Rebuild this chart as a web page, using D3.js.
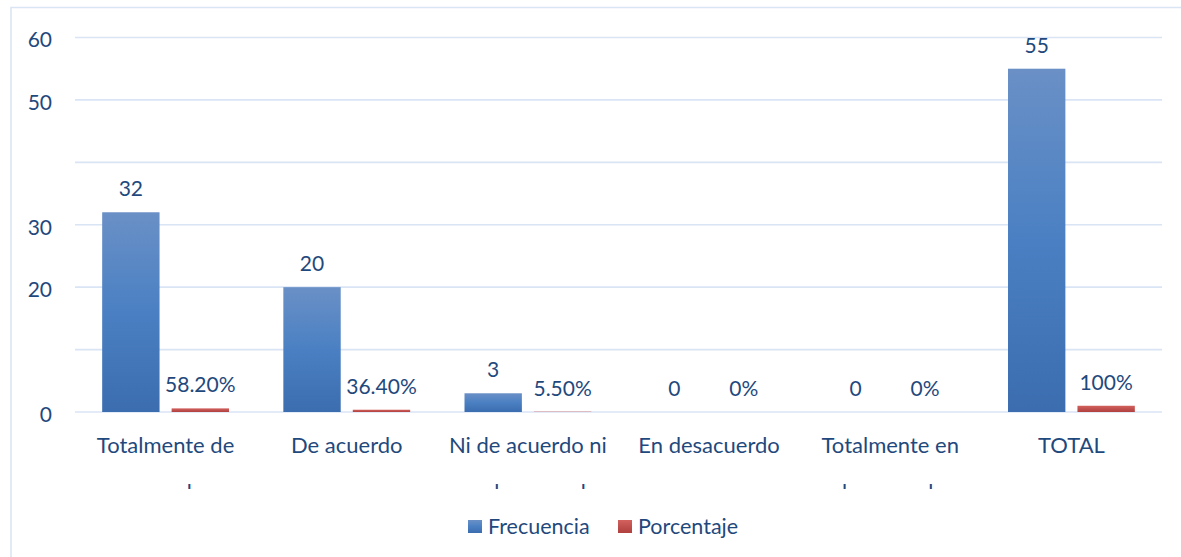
<!DOCTYPE html>
<html lang="es">
<head>
<meta charset="UTF-8">
<title>Frecuencia y Porcentaje</title>
<script src="https://d3js.org/d3.v7.min.js"></script>
<style>
    html, body { margin: 0; padding: 0; background: #fff; }
    body { width: 1181px; height: 557px; overflow: hidden; font-family: Lato, "Open Sans", sans-serif; }
    text { fill: #1f497d; }
</style>
</head>
<body>
<div id="chart"></div>
<script>
// datos
const categorias = [
    ["Totalmente de", "acuerdo"],
    ["De acuerdo"],
    ["Ni de acuerdo ni", "en desacuerdo"],
    ["En desacuerdo"],
    ["Totalmente en", "desacuerdo"],
    ["TOTAL"]
];
const frecuencia = [32, 20, 3, 0, 0, 55];
const porcentaje = [0.582, 0.364, 0.055, 0, 0, 1];
const series = ["Frecuencia", "Porcentaje"];
const yTicks = [0, 10, 20, 30, 40, 50, 60];
const yTickLabels = ["0", "", "20", "30", "", "50", "60"];

const W = 1181, H = 557;
const plot = { left: 75, right: 1162, top: 37.5, bottom: 412 };

const svg = d3.select("#chart").append("svg")
    .attr("width", W)
    .attr("height", H);

const defs = svg.append("defs");
function grad(id, stops) {
    const g = defs.append("linearGradient").attr("id", id)
        .attr("x1", 0).attr("y1", 0).attr("x2", 0).attr("y2", 1);
    stops.forEach(s => g.append("stop").attr("offset", s[0]).attr("stop-color", s[1]));
}
grad("gBlue", [[0, "#6a90c6"], [0.5, "#4a80c3"], [1, "#3b6daf"]]);
grad("gRed", [[0, "#d3625f"], [0.5, "#c0504d"], [1, "#b0413e"]]);
const fills = { Frecuencia: "url(#gBlue)", Porcentaje: "url(#gRed)" };

// marco
svg.append("rect")
    .attr("x", 11).attr("y", 7.5)
    .attr("width", W + 20).attr("height", H + 20)
    .attr("fill", "none")
    .attr("stroke", "#d9e4f4")
    .attr("stroke-width", 1.5);

const keys = categorias.map(c => c.join(" "));

const x0 = d3.scaleBand()
    .domain(keys)
    .range([plot.left, plot.right])
    .padding(0);

const x1 = d3.scaleBand()
    .domain(series)
    .range([x0.bandwidth() * 0.15, x0.bandwidth() * 0.85])
    .paddingInner(0.174);

const y = d3.scaleLinear()
    .domain([0, 60])
    .range([plot.bottom, plot.top]);

// líneas de cuadrícula
svg.append("g")
    .selectAll("line")
    .data(yTicks)
    .join("line")
    .attr("x1", plot.left).attr("x2", plot.right)
    .attr("y1", d => y(d)).attr("y2", d => y(d))
    .attr("stroke", "#d9e4f4")
    .attr("stroke-width", 1.6);

// eje y
const yAxis = svg.append("g")
    .attr("transform", `translate(${plot.left - 23},0)`)
    .call(d3.axisLeft(y).tickValues(yTicks).tickSize(0).tickFormat((d, i) => yTickLabels[i]));
yAxis.select(".domain").remove();
yAxis.selectAll("text")
    .attr("x", 0)
    .attr("dy", "0.45em")
    .style("font-family", "Lato, sans-serif")
    .style("font-size", "21px")
    .attr("fill", "#1f497d");

// datos por grupo
const filas = keys.map((k, i) => ({
    key: k,
    valores: [
        { serie: "Frecuencia", v: frecuencia[i], label: String(frecuencia[i]) },
        { serie: "Porcentaje", v: porcentaje[i],
          label: (porcentaje[i] === 0 || porcentaje[i] === 1) ? d3.format(".0%")(porcentaje[i]) : d3.format(".2%")(porcentaje[i]) }
    ]
}));

const grupos = svg.append("g")
    .selectAll("g")
    .data(filas)
    .join("g")
    .attr("transform", d => `translate(${x0(d.key)},0)`);

grupos.selectAll("rect")
    .data(d => d.valores.filter(v => v.v > 0))
    .join("rect")
    .attr("x", d => x1(d.serie))
    .attr("width", x1.bandwidth())
    .attr("y", d => y(d.v))
    .attr("height", d => y(0) - y(d.v))
    .attr("fill", d => fills[d.serie]);

grupos.selectAll("text.val")
    .data(d => d.valores)
    .join("text")
    .attr("class", "val")
    .attr("x", d => x1(d.serie) + x1.bandwidth() / 2)
    .attr("y", d => y(d.v) - 16)
    .attr("text-anchor", "middle")
    .style("font-size", "21px")
    .text(d => d.label);

// etiquetas de categoría (la segunda línea queda recortada)
defs.append("clipPath").attr("id", "cortar")
    .append("rect")
    .attr("x", 0).attr("y", 0)
    .attr("width", W).attr("height", 489);

const etiquetas = svg.append("g").attr("clip-path", "url(#cortar)");
categorias.forEach((lineas, i) => {
    const cx = x0(keys[i]) + x0.bandwidth() / 2;
    lineas.forEach((t, j) => {
        etiquetas.append("text")
            .attr("x", cx)
            .attr("y", 453 + j * 47)
            .attr("text-anchor", "middle")
            .style("font-size", "22px")
            .text(t);
    });
});

// leyenda
const leyenda = svg.append("g");
const legX = [468, 618];
series.forEach((s, i) => {
    const g = leyenda.append("g").attr("transform", `translate(${legX[i]},520)`);
    g.append("rect").attr("width", 14).attr("height", 13).attr("fill", fills[s]);
    g.append("text").attr("x", 20).attr("y", 14)
        .style("font-size", "21.5px")
        .text(s);
});
</script>
</body>
</html>
